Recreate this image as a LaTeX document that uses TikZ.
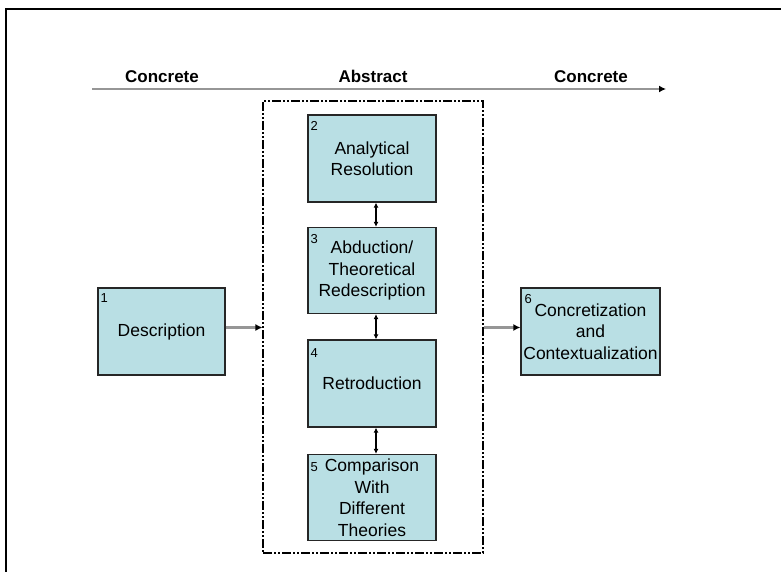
\documentclass[tikz,border=0pt]{standalone}
\usepackage{fontspec}
\setmainfont{Liberation Sans}
\usetikzlibrary{arrows.meta}
\definecolor{stagecyan}{RGB}{185,223,228}
\definecolor{axisgray}{RGB}{150,150,150}

\begin{document}
\begin{tikzpicture}[
    x=1pt, y=-1pt,
    stage/.style={rectangle, draw=black!85, line width=1.3pt, fill=stagecyan, minimum width=128pt, minimum height=87pt, align=center, font=\fontsize{17.5}{21.5}\selectfont, inner sep=0pt},
    num/.style={anchor=north west, inner sep=0pt, font=\fontsize{13}{14}\selectfont},
    head/.style={anchor=base, font=\fontsize{17}{19}\selectfont\bfseries},
    arrow/.style={draw=axisgray, line width=2.6pt, -{Latex[black,length=7pt,width=7pt]}},
    link/.style={black, line width=1.1pt, {Latex[length=5pt,width=5pt]}-{Latex[length=5pt,width=5pt]}}
]
\useasboundingbox (0,0) rectangle (781,572);

% frame
\draw[line width=1.6pt] (781,9) -- (6,9) -- (6,572);

% axis
\coordinate (axisL) at (92,89);
\coordinate (axisR) at (666,89);
\draw[arrow] (axisL) -- (axisR);
\node[head] (concL) at (162,83) {Concrete};
\node[head] (abst) at (373,83) {Abstract};
\node[head] (concR) at (591,83) {Concrete};

% abstract part
\node[draw, line width=1.1pt, dash pattern=on 9pt off 2pt on 2pt off 2pt on 2pt off 2pt, minimum width=220pt, minimum height=452pt, inner sep=0pt] (abox) at (373,327) {};

\node[stage] (analytic) at (372,158.5) {Analytical\\Resolution};
\node[stage, minimum height=86pt] (abduct) at (372,270.5) {Abduction/\\Theoretical\\Redescription};
\node[stage] (retro) at (372,383.5) {Retroduction};
\node[stage, minimum height=86pt] (compare) at (372,497.5) {Comparison\\With\\Different\\Theories};

\node[num] at ([xshift=3pt,yshift=-7pt]analytic.north west) {2};
\node[num] at ([xshift=3pt,yshift=-7pt]abduct.north west) {3};
\node[num] at ([xshift=3pt,yshift=-9pt]retro.north west) {4};
\node[num] at ([xshift=3pt,yshift=-9pt]compare.north west) {5};

\draw[link] ([xshift=4pt]analytic.south) -- ([xshift=4pt]abduct.north);
\draw[link] ([xshift=4pt]abduct.south) -- ([xshift=4pt]retro.north);
\draw[link] ([xshift=4pt]retro.south) -- ([xshift=4pt]compare.north);

% concrete parts
\node[stage, minimum width=127pt] (descr) at (161.5,331.5) {Description};
\node[num] at ([xshift=3pt,yshift=-6pt]descr.north west) {1};

\node[stage, minimum width=139pt] (concret) at (590.5,331.5) {Concretization\\and\\Contextualization};
\node[num] at ([xshift=4pt,yshift=-7pt]concret.north west) {6};

\draw[arrow] ([yshift=4pt]descr.east) -- ([yshift=4pt]descr.east -| abox.west);
\draw[arrow] ([yshift=4pt]concret.west -| abox.east) -- ([yshift=4pt]concret.west);

\end{tikzpicture}
\end{document}
